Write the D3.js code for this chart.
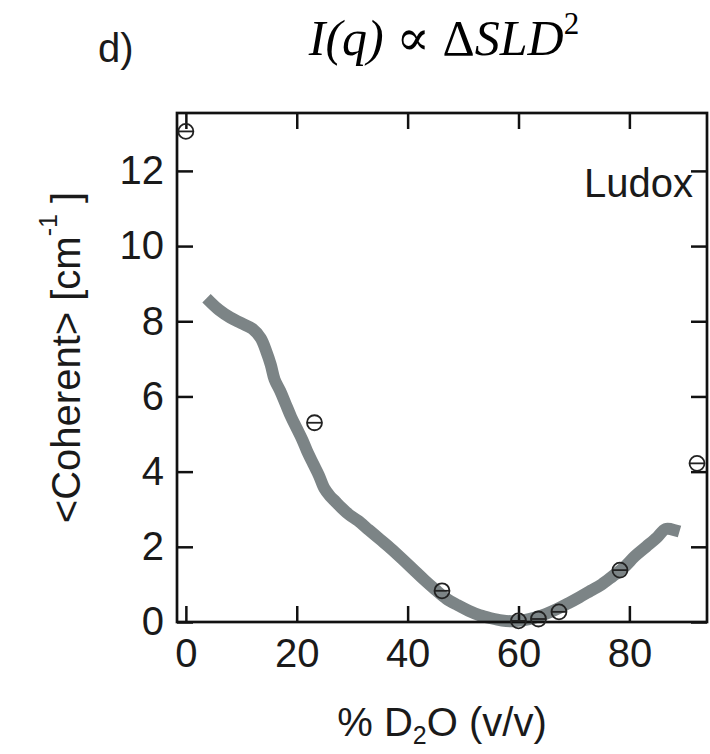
<!DOCTYPE html>
<html>
<head>
<meta charset="utf-8">
<script src="https://cdn.jsdelivr.net/npm/d3@7"></script>
<style>
  body { margin: 0; background: #fff; }
  svg text { font-family: "Liberation Sans", Arial, sans-serif; fill: #1a1a1a; }
</style>
</head>
<body>
<div id="chart"></div>
<script>
// scattering curve (grey band)
const curveX = [4.5, 6, 8, 10, 12, 13.5, 14.5, 15.3, 16, 17, 18, 19, 20, 21, 22, 23, 24, 25, 26, 27, 28, 29.5, 31, 33, 35, 37, 39, 41, 43, 45, 47, 49, 51, 53, 55, 57, 59, 61, 63, 65, 67, 69, 71, 73, 75, 77, 79, 81, 83, 85, 86.5, 88];
const curveY = [8.5, 8.3, 8.1, 7.95, 7.8, 7.55, 7.2, 6.85, 6.45, 6.15, 5.8, 5.45, 5.15, 4.85, 4.5, 4.2, 3.9, 3.55, 3.35, 3.2, 3.05, 2.85, 2.7, 2.45, 2.2, 1.95, 1.68, 1.4, 1.12, 0.86, 0.62, 0.45, 0.3, 0.18, 0.1, 0.04, 0.02, 0.05, 0.12, 0.22, 0.35, 0.5, 0.66, 0.83, 1.0, 1.22, 1.45, 1.75, 2.0, 2.25, 2.47, 2.45];

// measured points (open circles)
const pointX = [0, 23.2, 46.2, 60, 63.6, 67.3, 78.3, 92.2];
const pointY = [13.05, 5.3, 0.83, 0.03, 0.08, 0.27, 1.38, 4.22];

const xTicks = [0, 20, 40, 60, 80];
const yTicks = [0, 2, 4, 6, 8, 10, 12];

const W = 710, H = 754;
const margin = {top: 113, right: 3, bottom: 132, left: 177};
const width = W - margin.left - margin.right;
const height = H - margin.top - margin.bottom;

const svg = d3.select("#chart").append("svg")
    .attr("width", W)
    .attr("height", H);

const g = svg.append("g")
    .attr("transform", `translate(${margin.left},${margin.top})`);

const x = d3.scaleLinear().domain([-1.6, 94]).range([0, width]);
const y = d3.scaleLinear().domain([0, 13.54]).range([height, 0]);

// grey curve
const curve = curveX.map((d, i) => [d, curveY[i]]);
g.append("path")
    .datum(curve)
    .attr("fill", "none")
    .attr("stroke", "#7c8486")
    .attr("stroke-width", 12)
    .attr("stroke-linejoin", "round")
    .attr("stroke-linecap", "square")
    .attr("d", d3.line().x(d => x(d[0])).y(d => y(d[1])).curve(d3.curveCatmullRom));

// axes, ticks pointing inward
const fontSize = 40;
function styleAxis(sel) {
    sel.select(".domain").remove();
    sel.selectAll(".tick line").attr("stroke", "#111").attr("stroke-width", 2.5);
    sel.selectAll(".tick text").attr("font-size", fontSize).attr("fill", "#1a1a1a")
        .attr("font-family", "Liberation Sans, Arial, sans-serif");
}

g.append("g")
    .attr("transform", `translate(0,${height})`)
    .call(d3.axisBottom(x).tickValues(xTicks).tickSizeInner(-16).tickSizeOuter(0).tickPadding(17))
    .call(styleAxis);

g.append("g")
    .call(d3.axisTop(x).tickValues(xTicks).tickSizeInner(-16).tickSizeOuter(0).tickFormat(""))
    .call(styleAxis);

g.append("g")
    .call(d3.axisLeft(y).tickValues(yTicks).tickSizeInner(-16).tickSizeOuter(0).tickPadding(13))
    .call(styleAxis);

g.append("g")
    .attr("transform", `translate(${width},0)`)
    .call(d3.axisRight(y).tickValues(yTicks).tickSizeInner(-16).tickSizeOuter(0).tickFormat(""))
    .call(styleAxis);

// frame
g.append("rect")
    .attr("width", width)
    .attr("height", height)
    .attr("fill", "none")
    .attr("stroke", "#111")
    .attr("stroke-width", 2.7);

// open circle markers with a bar through the middle
const pts = g.selectAll(".pt")
    .data(pointX.map((d, i) => [d, pointY[i]]))
    .join("g")
    .attr("class", "pt")
    .attr("transform", d => `translate(${x(d[0])},${y(d[1])})`);

pts.append("circle")
    .attr("r", 7.5)
    .attr("fill", "none")
    .attr("stroke", "#222")
    .attr("stroke-width", 1.8);

pts.append("line")
    .attr("x1", -7.5).attr("x2", 7.5)
    .attr("stroke", "#222")
    .attr("stroke-width", 1.8);

// sample label
g.append("text")
    .attr("x", width - 14)
    .attr("y", 84)
    .attr("text-anchor", "end")
    .attr("font-size", fontSize)
    .text("Ludox");

// x axis title
const xt = svg.append("text")
    .attr("x", margin.left + width / 2)
    .attr("y", 736)
    .attr("text-anchor", "middle")
    .attr("font-size", fontSize);
xt.append("tspan").text("% D");
xt.append("tspan").attr("font-size", 25).attr("dy", 8).text("2");
xt.append("tspan").attr("dy", -8).text("O (v/v)");

// y axis title
const yt = svg.append("text")
    .attr("transform", `translate(80,${margin.top + height / 2 - 10}) rotate(-90)`)
    .attr("text-anchor", "middle")
    .attr("font-size", fontSize);
yt.append("tspan").text("<Coherent> [cm");
yt.append("tspan").attr("font-size", 25).attr("dy", -23).text("-1");
yt.append("tspan").attr("dy", 23).text(" ]");

// panel letter and heading
svg.append("text")
    .attr("x", 98)
    .attr("y", 62)
    .attr("font-size", 40)
    .text("d)");

const tt = svg.append("text")
    .attr("x", 444)
    .attr("y", 55)
    .attr("text-anchor", "middle")
    .attr("font-size", 50)
    .style("font-family", "'Liberation Serif', 'DejaVu Serif', serif")
    .style("font-style", "italic")
    .style("fill", "#000");
tt.append("tspan").text("I(q) ");
tt.append("tspan").style("font-style", "normal").text("∝ Δ");
tt.append("tspan").text("SLD");
tt.append("tspan").style("font-style", "normal").attr("font-size", 31).attr("dy", -21).text("2");
</script>
</body>
</html>
